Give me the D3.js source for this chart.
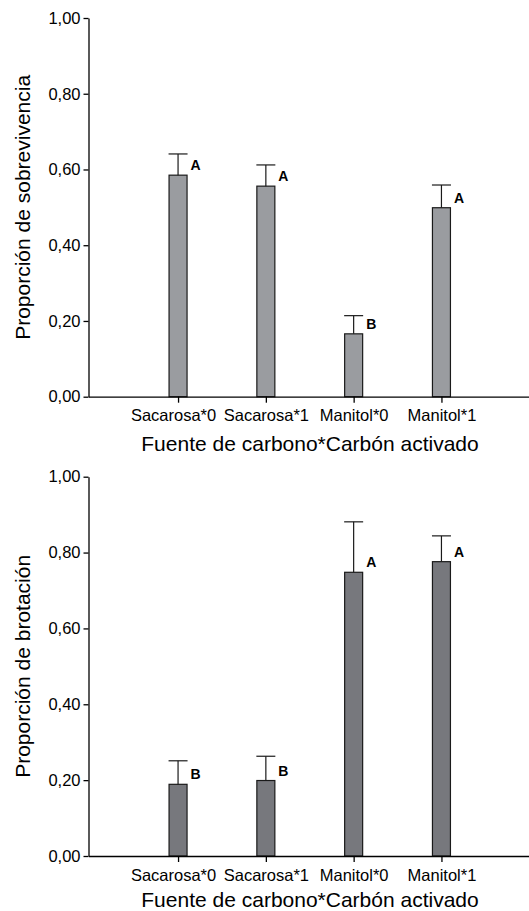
<!DOCTYPE html>
<html>
<head>
<meta charset="utf-8">
<script src="https://cdn.jsdelivr.net/npm/d3@7/dist/d3.min.js"></script>
<style>
  body { margin: 0; background: #fff; }
  svg { display: block; font-family: "Liberation Sans", Arial, sans-serif; }
  .axis path, .axis line { stroke: #000; stroke-width: 1.3px; }
  .axis text { fill: #000; }
</style>
</head>
<body>
<script>
// categories and values
var categories = ["Sacarosa*0", "Sacarosa*1", "Manitol*0", "Manitol*1"];

var survivalMean = [0.585, 0.556, 0.166, 0.499];
var survivalErr = [0.056, 0.056, 0.048, 0.060];
var survivalGroup = ["A", "A", "B", "A"];

var sproutMean = [0.189, 0.199, 0.748, 0.776];
var sproutErr = [0.062, 0.064, 0.133, 0.068];
var sproutGroup = ["B", "B", "A", "A"];

var yTicks = [0, 0.2, 0.4, 0.6, 0.8, 1.0];
var xTitle = "Fuente de carbono*Carbón activado";

var width = 529, height = 911;

var svg = d3.select("body").append("svg")
    .attr("width", width)
    .attr("height", height);

var fmt = function(d) { return d3.format(".2f")(d).replace(".", ","); };

function drawPanel(top, bottom, means, errs, groups, fill, yTitle, titleOffset) {
  var g = svg.append("g");

  var x = d3.scalePoint().domain(categories).range([88.5, 531]).padding(1.02),
      y = d3.scaleLinear().domain([0, 1]).range([bottom, top]);

  var barW = 18;

  var data = categories.map(function(c, i) {
    return {cat: c, mean: means[i], err: errs[i], group: groups[i]};
  });

  // bars
  g.selectAll("rect.bar")
      .data(data)
    .enter().append("rect")
      .attr("class", "bar")
      .attr("x", function(d) { return x(d.cat) - barW / 2; })
      .attr("y", function(d) { return y(d.mean); })
      .attr("width", barW)
      .attr("height", function(d) { return y(0) - y(d.mean); })
      .style("fill", fill)
      .style("stroke", "#1a1a1a")
      .style("stroke-width", 1.2);

  // error bars (upper only)
  g.selectAll("line.err")
      .data(data)
    .enter().append("line")
      .attr("class", "err")
      .attr("x1", function(d) { return x(d.cat); })
      .attr("x2", function(d) { return x(d.cat); })
      .attr("y1", function(d) { return y(d.mean); })
      .attr("y2", function(d) { return y(d.mean + d.err); })
      .style("stroke", "#1a1a1a")
      .style("stroke-width", 1.2);

  g.selectAll("line.cap")
      .data(data)
    .enter().append("line")
      .attr("class", "cap")
      .attr("x1", function(d) { return x(d.cat) - barW / 2 - 0.5; })
      .attr("x2", function(d) { return x(d.cat) + barW / 2 + 0.5; })
      .attr("y1", function(d) { return y(d.mean + d.err); })
      .attr("y2", function(d) { return y(d.mean + d.err); })
      .style("stroke", "#1a1a1a")
      .style("stroke-width", 1.2);

  // group letters
  g.selectAll("text.grp")
      .data(data)
    .enter().append("text")
      .attr("class", "grp")
      .attr("x", function(d) { return x(d.cat) + 12.5; })
      .attr("y", function(d) { return y(d.mean) - 10; })
      .attr("dy", "0.36em")
      .style("font-size", "14px")
      .style("font-weight", "bold")
      .text(function(d) { return d.group; });

  // x axis
  g.append("g")
      .attr("class", "axis")
      .attr("transform", "translate(0," + y(0) + ")")
      .call(d3.axisBottom(x).tickSize(6).tickSizeOuter(0).tickPadding(7))
    .selectAll("text")
      .style("font-size", "16.5px")
      .attr("dx", function(d, i) { return i === 0 ? -5 : 0; });

  // y axis
  g.append("g")
      .attr("class", "axis")
      .attr("transform", "translate(88.5,0)")
      .call(d3.axisLeft(y).tickValues(yTicks).tickFormat(fmt).tickSize(5).tickSizeOuter(0).tickPadding(3))
    .selectAll("text")
      .style("font-size", "16.5px");

  // titles
  g.append("text")
      .attr("x", 310)
      .attr("y", bottom + titleOffset)
      .style("text-anchor", "middle")
      .style("font-size", "21px")
      .text(xTitle);

  g.append("text")
      .attr("transform", "translate(30," + ((top + bottom) / 2) + ") rotate(-90)")
      .style("text-anchor", "middle")
      .style("font-size", "21px")
      .text(yTitle);
}

drawPanel(18, 396.7, survivalMean, survivalErr, survivalGroup, "#9a9ca0", "Proporción de sobrevivencia", 54);
drawPanel(476.7, 856, sproutMean, sproutErr, sproutGroup, "#77787d", "Proporción de brotación", 51);
</script>
</body>
</html>
